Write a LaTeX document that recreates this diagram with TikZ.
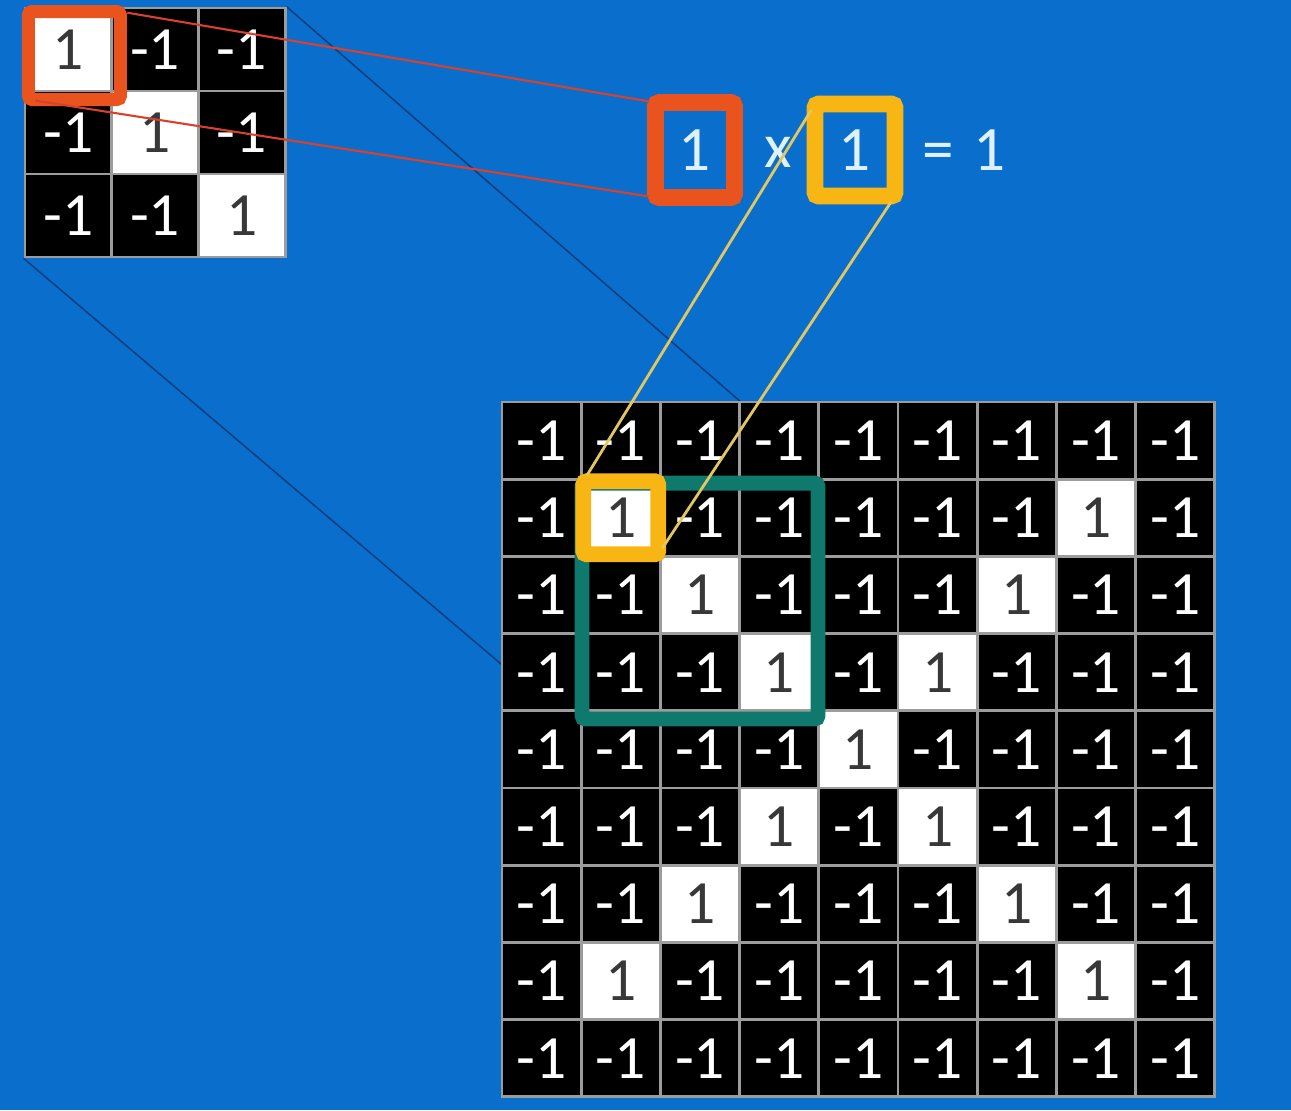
\documentclass[tikz,border=0pt]{standalone}
\usepackage{fontspec}
\setmainfont{Carlito}
\usetikzlibrary{backgrounds}
\definecolor{bgblue}{HTML}{0A6ECC}
\definecolor{gridgray}{HTML}{9C9C9C}
\definecolor{boxorange}{HTML}{E8531E}
\definecolor{boxyellow}{HTML}{F7B614}
\definecolor{boxteal}{HTML}{10796D}
\definecolor{linered}{HTML}{D8412E}
\definecolor{lineyellow}{HTML}{E2C760}
\definecolor{linenavy}{HTML}{0B3F7E}
\definecolor{eqwhite}{HTML}{DDF1FF}
\tikzset{
  cellneg/.style={draw=gridgray,line width=1.6pt,fill=black,text=white,inner sep=0pt,font=\fontsize{35}{36}\selectfont},
  cellpos/.style={cellneg,fill=white,text=black!78},
  bigcell/.style={minimum width=1.584cm,minimum height=1.544cm},
  smallcell/.style={minimum width=1.734cm,minimum height=1.66cm},
  framebox/.style={draw=#1,rounded corners=2pt,inner sep=0pt},
  eqnum/.style={text=eqwhite,font=\fontsize{36}{38}\selectfont}
}
\begin{document}
\begin{tikzpicture}[x=0.02cm,y=-0.02cm]
\useasboundingbox (0,0) rectangle (1291,1110);
\foreach \r in {0,1,2}{
  \foreach \c in {0,1,2}{
    \ifnum\r=\c
      \node[cellpos,smallcell] (s\r\c) at ({25+86.7*(\c+0.5)},{8+83*(\r+0.5)}) {1};
    \else
      \node[cellneg,smallcell] (s\r\c) at ({25+86.7*(\c+0.5)},{8+83*(\r+0.5)}) {-1};
    \fi
  }
}
\foreach \r in {0,...,8}{
  \foreach \c in {0,...,8}{
    \pgfmathtruncatemacro{\one}{and(or(\r==\c,\r+\c==8),and(\r>0,\r<8))}
    \ifnum\one=1
      \node[cellpos,bigcell] (b\r\c) at ({502+79.2*(\c+0.5)},{402+77.2*(\r+0.5)}) {1};
    \else
      \node[cellneg,bigcell] (b\r\c) at ({502+79.2*(\c+0.5)},{402+77.2*(\r+0.5)}) {-1};
    \fi
  }
}
\node[framebox=boxteal,line width=8.5pt,minimum width=4.72cm,minimum height=4.72cm] (window) at ([yshift=-0.12cm]b22) {};
\node[framebox=boxyellow,line width=9pt,minimum width=1.5cm,minimum height=1.46cm,outer sep=0pt] (patch) at (b11) {};
\node[framebox=boxorange,line width=7.4pt,minimum width=1.84cm,minimum height=1.76cm,outer sep=0pt] (pick) at ([shift={(6,6)}]s00) {};
\node[framebox=boxorange,line width=9.5pt,minimum width=1.58cm,minimum height=1.9cm,outer sep=0pt,eqnum] (lhs) at (695,150) {1};
\node[eqnum] (times) at (778,152) {x};
\node[framebox=boxyellow,line width=9.5pt,minimum width=1.6cm,minimum height=1.84cm,outer sep=0pt,eqnum] (rhs) at (855,150) {1};
\node[eqnum] (result) at (964,150) {=\hspace{0.3em}1};
\draw[linered,line width=1.2pt,shorten <=4pt,shorten >=4pt] (pick.north east) -- (lhs.north west);
\draw[linered,line width=1.2pt,shorten <=4pt,shorten >=4pt] (pick.south west) -- (lhs.south west);
\draw[lineyellow,line width=1.6pt,shorten <=4pt,shorten >=4pt] (patch.north west) -- (rhs.north west);
\draw[lineyellow,line width=1.6pt,shorten <=4pt,shorten >=4pt] (patch.south east) -- (rhs.south east);
\begin{scope}[on background layer]
\fill[bgblue] (0,0) rectangle (1291,1110);
\draw[linenavy,line width=0.9pt] (s02.north east) -- (window.north east);
\draw[linenavy,line width=0.9pt] (s20.south west) -- (window.south west);
\end{scope}
\end{tikzpicture}
\end{document}
